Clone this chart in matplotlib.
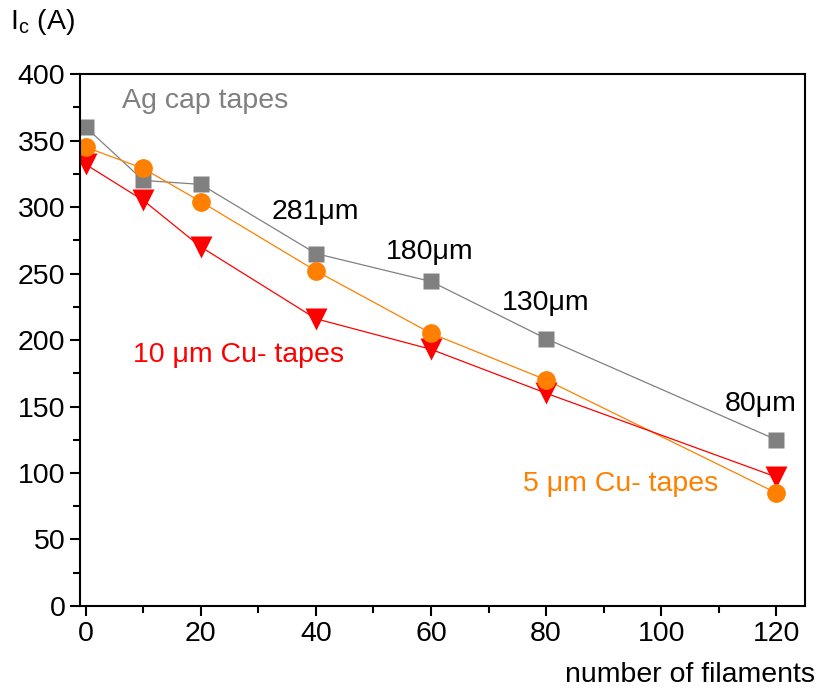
import numpy as np
import matplotlib.pyplot as plt
from matplotlib.ticker import MultipleLocator

plt.rcParams['font.family'] = ['Liberation Sans', 'DejaVu Sans']
plt.rcParams['mathtext.fontset'] = 'custom'
plt.rcParams['mathtext.rm'] = 'Liberation Sans'

# number of filaments and critical current for the three tape types
filaments = [0, 10, 20, 40, 60, 80, 120]
ic_ag_cap = [360, 320, 317, 265, 244, 201, 125]
ic_cu_5um = [345, 329, 304, 252, 205, 170, 85]
ic_cu_10um = [332, 305, 270, 216, 193, 160, 97]

size_labels = ["281\u03bcm", "180\u03bcm", "130\u03bcm", "80\u03bcm"]

GRAY = '#808080'
ORANGE = '#FF8000'
RED = '#FF0000'
FS = 20.5

fig = plt.figure(figsize=(8.18, 6.88), dpi=100)
ax = fig.add_axes([0.0978, 0.1192, 0.8864, 0.7732])

ax.plot(filaments, ic_ag_cap, '-', color=GRAY, lw=0.9)
ax.plot(filaments, ic_cu_5um, '-', color=ORANGE, lw=0.9)
ax.plot(filaments, ic_cu_10um, '-', color=RED, lw=0.9)
ax.plot(filaments, ic_ag_cap, 's', color=GRAY, ms=11.5, mec='none')
ax.plot(filaments, ic_cu_10um, 'v', color=RED, ms=16, mec='none')
ax.plot(filaments, ic_cu_5um, 'o', color=ORANGE, ms=13.5, mec='none')

ax.set_xlim(-1, 125)
ax.set_ylim(0, 400)
ax.xaxis.set_major_locator(MultipleLocator(20))
ax.xaxis.set_minor_locator(MultipleLocator(10))
ax.yaxis.set_major_locator(MultipleLocator(50))
ax.yaxis.set_minor_locator(MultipleLocator(25))
ax.tick_params(which='both', direction='out', width=1.5, labelsize=FS,
               top=False, right=False)
ax.tick_params(which='major', length=7)
ax.tick_params(which='minor', length=5)
for s in ax.spines.values():
    s.set_linewidth(1.5)

# curve labels
ax.text(6.3, 380, "Ag cap tapes", color=GRAY, fontsize=FS, va='center')
ax.text(8.2, 189, "10 \u03bcm Cu- tapes", color=RED, fontsize=FS, va='center')
ax.text(75.9, 92, "5 \u03bcm Cu- tapes", color=ORANGE, fontsize=FS, va='center')

# filament size annotations along the Ag cap curve
for (x, y), lab in zip([(32.3, 296), (52.1, 266), (72.3, 227.5), (111, 152)],
                       size_labels):
    ax.text(x, y, lab, color='black', fontsize=FS, va='center')

fig.text(10 / 818, 1 - 22 / 688, r'I$_\mathregular{c}$ (A)', fontsize=FS,
         va='center', ha='left')
fig.text(815 / 818, 1 - 675 / 688, "number of filaments", fontsize=FS,
         va='center', ha='right')

fig.savefig('out.png', dpi=100)
